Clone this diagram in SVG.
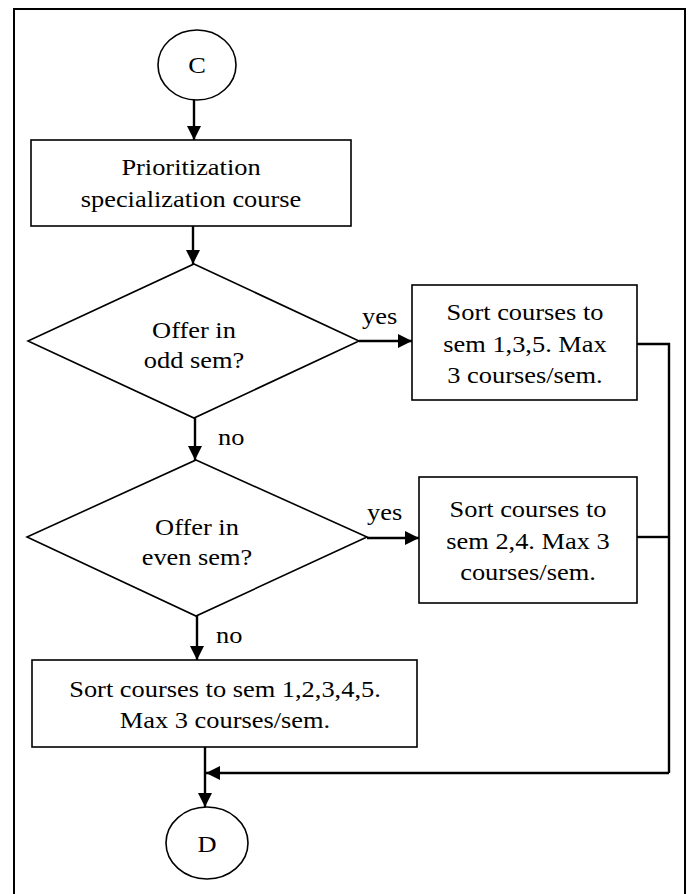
<svg xmlns="http://www.w3.org/2000/svg" width="690" height="894" viewBox="0 0 690 894">
<style>
.shape{fill:#fff;stroke:#000;stroke-width:1.6}
.conn{fill:none;stroke:#000;stroke-width:2.4}
.t{font-family:"Liberation Serif","Times New Roman",serif;font-size:24px;fill:#000;text-anchor:middle}
.l{font-family:"Liberation Serif","Times New Roman",serif;font-size:24px;fill:#000;text-anchor:start}
</style>
<defs>
<marker id="ah" viewBox="0 0 14 14" refX="14" refY="7" markerWidth="14" markerHeight="14" markerUnits="userSpaceOnUse" orient="auto">
<path d="M0,0 L14,7 L0,14 z" fill="#000"/>
</marker>
</defs>
<rect width="690" height="894" fill="#fff"/>
<rect id="frame" x="14" y="9" width="671" height="900" fill="none" stroke="#000" stroke-width="2"/>

<g id="connectors">
<path class="conn" d="M194,100 V140" marker-end="url(#ah)"/>
<path class="conn" d="M193,226 V264" marker-end="url(#ah)"/>
<path class="conn" d="M195,418 V460" marker-end="url(#ah)"/>
<path class="conn" d="M197,616 V660" marker-end="url(#ah)"/>
<path class="conn" d="M359,341 H412" marker-end="url(#ah)"/>
<path class="conn" d="M367,538 H419" marker-end="url(#ah)"/>
<path class="conn" d="M637,344 H669 V773"/>
<path class="conn" d="M637,537 H669"/>
<path class="conn" d="M669,773 H206" marker-end="url(#ah)"/>
<path class="conn" d="M205,747 V807" marker-end="url(#ah)"/>
<text class="l" transform="translate(362,324) scale(1.1,1)">yes</text>
<text class="l" transform="translate(367,520) scale(1.1,1)">yes</text>
<text class="l" transform="translate(218,445) scale(1.1,1)">no</text>
<text class="l" transform="translate(216,643) scale(1.1,1)">no</text>
</g>

<g id="C">
<ellipse class="shape" cx="197" cy="65" rx="39" ry="35"/>
<text class="t" transform="translate(197,73) scale(1.1,1)">C</text>
</g>

<g id="prioritization">
<rect class="shape" x="31" y="140" width="320" height="86"/>
<text class="t" transform="translate(191,175) scale(1.1,1)">Prioritization</text>
<text class="t" transform="translate(191,207) scale(1.1,1)">specialization course</text>
</g>

<g id="odd">
<polygon class="shape" points="194,264 359,341 194,418 28,341"/>
<text class="t" transform="translate(194,338) scale(1.1,1)">Offer in</text>
<text class="t" transform="translate(194,368) scale(1.1,1)">odd sem?</text>
</g>

<g id="sortOdd">
<rect class="shape" x="412" y="285" width="225" height="115"/>
<text class="t" transform="translate(525,320) scale(1.1,1)">Sort courses to</text>
<text class="t" transform="translate(525,352) scale(1.1,1)">sem 1,3,5. Max</text>
<text class="t" transform="translate(525,383) scale(1.1,1)">3 courses/sem.</text>
</g>

<g id="even">
<polygon class="shape" points="196,460 367,537 196,616 27,537"/>
<text class="t" transform="translate(197,535) scale(1.1,1)">Offer in</text>
<text class="t" transform="translate(197,565) scale(1.1,1)">even sem?</text>
</g>

<g id="sortEven">
<rect class="shape" x="419" y="477" width="218" height="126"/>
<text class="t" transform="translate(528,517) scale(1.1,1)">Sort courses to</text>
<text class="t" transform="translate(528,549) scale(1.1,1)">sem 2,4. Max 3</text>
<text class="t" transform="translate(528,580) scale(1.1,1)">courses/sem.</text>
</g>

<g id="sortAll">
<rect class="shape" x="32" y="660" width="385" height="87"/>
<text class="t" transform="translate(225,697) scale(1.1,1)">Sort courses to sem 1,2,3,4,5.</text>
<text class="t" transform="translate(225,728) scale(1.1,1)">Max 3 courses/sem.</text>
</g>

<g id="D">
<ellipse class="shape" cx="207" cy="843" rx="41" ry="36"/>
<text class="t" transform="translate(207,852) scale(1.1,1)">D</text>
</g>
</svg>
